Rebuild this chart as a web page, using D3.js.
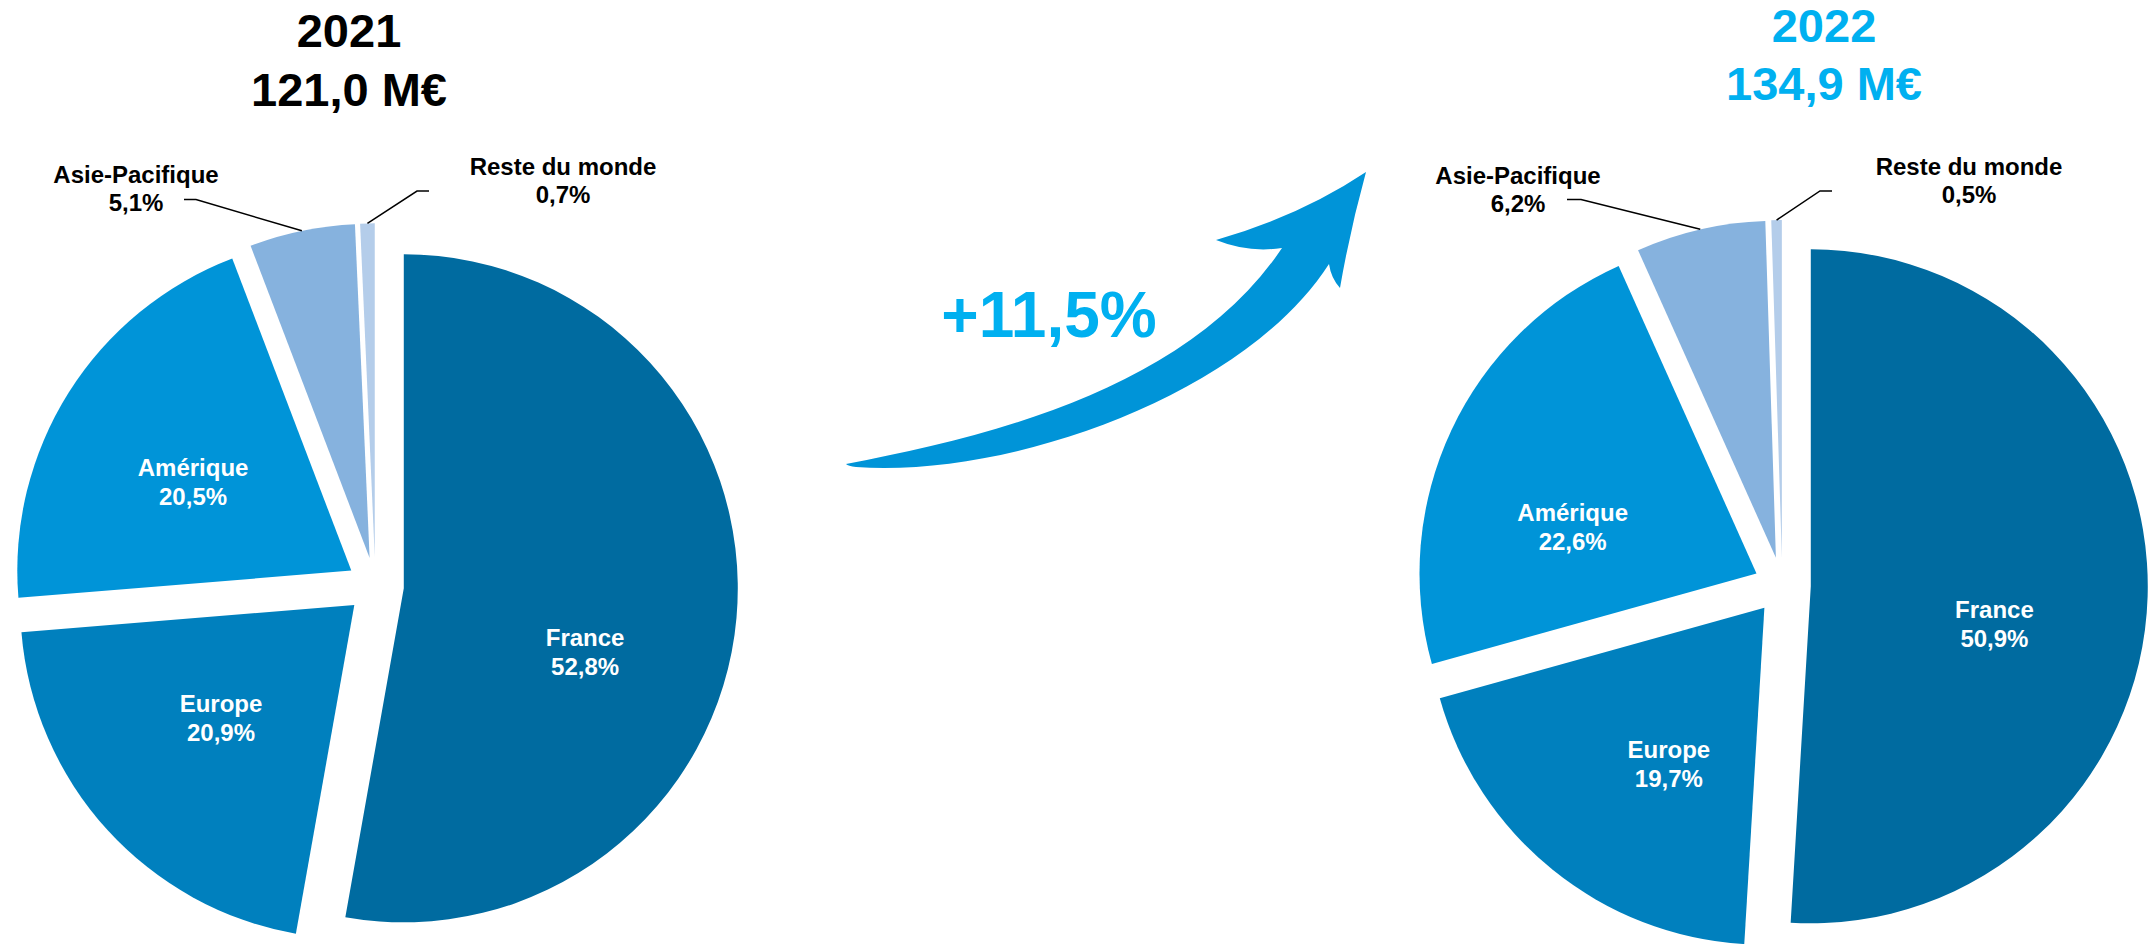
<!DOCTYPE html>
<html>
<head>
<meta charset="utf-8">
<script src="https://cdn.jsdelivr.net/npm/d3@7"></script>
<style>
  html, body { margin: 0; padding: 0; background: #ffffff; }
  svg { display: block; }
  text { font-family: "Liberation Sans", Arial, sans-serif; font-weight: bold; }
</style>
</head>
<body>
<svg id="chart" width="2149" height="944"></svg>
<script>
// ---------------- DATA ----------------
const categories = ["France", "Europe", "Amérique", "Asie-Pacifique", "Reste du monde"];
const shares2021 = [52.8, 20.9, 20.5, 5.1, 0.7];
const shares2022 = [50.9, 19.7, 22.6, 6.2, 0.5];
const years = ["2021", "2022"];
const totals = ["121,0 M€", "134,9 M€"];
const growthLabel = "+11,5%";

// ---------------- STYLE / LAYOUT ----------------
const sliceColors = ["#006BA0", "#0080BE", "#0094D8", "#86B2DE", "#B4CDEA"];
const titleColors = ["#000000", "#00B0F0"];
const W = 2149, H = 944;
const pies = [
  { cx: 375.4, cy: 585.8, r: 334, titleX: 349, titleY: [47, 106] },
  { cx: 1782.3, cy: 585.5, r: 337, titleX: 1824, titleY: [42, 100] }
];
const explode = 28.5;
// nudges for inside labels (relative to centroid at 0.56 r)
const insideNudge = [
  [[-5, 47], [5, -13], [0, 11]],
  [[-5, 32], [23, 9], [-13, 34]]
];
// outside labels: [labelX, labelCenterY, elbowX, elbowY, endX]
const outsideLayout = [
  { 3: [136, 188, 196, 199.5, 184], 4: [563, 180, 417, 191, 429] },
  { 3: [1518, 189, 1581, 199.5, 1567], 4: [1969, 180, 1820, 191, 1832] }
];

const svg = d3.select("#chart");
const fmt = v => d3.format(".1f")(v).replace(".", ",") + "%";

const pieGen = d3.pie().sort(null).value(d => d.value).startAngle(0).endAngle(2 * Math.PI);
const dirOf = a => [Math.sin(a), -Math.cos(a)];

[shares2021, shares2022].forEach((shares, pi) => {
  const P = pies[pi];
  const data = categories.map((c, i) => ({ name: c, value: shares[i], idx: i }));
  const arcs = pieGen(data);
  const arcGen = d3.arc().innerRadius(0).outerRadius(P.r);
  const g = svg.append("g").attr("transform", `translate(${P.cx},${P.cy})`);

  arcs.forEach(a => {
    const mid = (a.startAngle + a.endAngle) / 2;
    const [ux, uy] = dirOf(mid);
    const ox = explode * ux, oy = explode * uy;
    a.ox = ox; a.oy = oy; a.mid = mid;
    g.append("path")
      .attr("d", arcGen(a))
      .attr("transform", `translate(${ox},${oy})`)
      .attr("fill", sliceColors[a.data.idx]);
  });

  // inside labels
  const labelArc = d3.arc().innerRadius(P.r * 0.56).outerRadius(P.r * 0.56);
  arcs.slice(0, 3).forEach((a, k) => {
    const c = labelArc.centroid(a);
    const nx = insideNudge[pi][k][0], ny = insideNudge[pi][k][1];
    const x = c[0] + a.ox + nx, y = c[1] + a.oy + ny;
    const t = g.append("text").attr("text-anchor", "middle").attr("fill", "#ffffff")
      .style("font-size", "24px");
    t.append("tspan").attr("x", x).attr("y", y - 14.5 + 8.5).text(a.data.name);
    t.append("tspan").attr("x", x).attr("y", y + 14.5 + 8.5).text(fmt(a.data.value));
  });

  // outside labels with leader lines
  const outerArc = d3.arc().innerRadius(P.r).outerRadius(P.r);
  arcs.slice(3).forEach(a => {
    const L = outsideLayout[pi][a.data.idx];
    const c = outerArc.centroid(a);
    const sx = c[0] + a.ox, sy = c[1] + a.oy;
    const ex = L[2] - P.cx, ey = L[3] - P.cy, endX = L[4] - P.cx;
    g.append("path")
      .attr("d", d3.line()([[sx, sy], [ex, ey], [endX, ey]]))
      .attr("fill", "none").attr("stroke", "#000").attr("stroke-width", 1.5);
    const lx = L[0] - P.cx, ly = L[1] - P.cy;
    const t = g.append("text").attr("text-anchor", "middle").attr("fill", "#000")
      .style("font-size", "24px");
    t.append("tspan").attr("x", lx).attr("y", ly - 14 + 8.5).text(a.data.name);
    t.append("tspan").attr("x", lx).attr("y", ly + 14 + 8.5).text(fmt(a.data.value));
  });

  // title
  const tt = svg.append("text").attr("text-anchor", "middle").attr("fill", titleColors[pi])
    .style("font-size", "47px");
  tt.append("tspan").attr("x", P.titleX).attr("y", P.titleY[0]).text(years[pi]);
  tt.append("tspan").attr("x", P.titleX).attr("y", P.titleY[1]).text(totals[pi]);
});

// ---------------- GROWTH ARROW (decoration) ----------------
const ap = d3.path();
ap.moveTo(846, 464);
ap.bezierCurveTo(1000, 435, 1190, 385, 1282, 248);   // upper edge of shaft
ap.quadraticCurveTo(1248, 253, 1216, 240);           // upper barb underside
ap.quadraticCurveTo(1300, 216, 1366, 172);           // barb top edge to tip
ap.quadraticCurveTo(1350, 230, 1340, 288);           // tip down to lower barb
ap.quadraticCurveTo(1331, 278, 1329, 264);           // lower barb inner
ap.bezierCurveTo(1245, 395, 1010, 478, 856, 467);    // lower edge of shaft
ap.quadraticCurveTo(848, 466, 846, 464);
ap.closePath();
svg.append("path").attr("d", ap.toString()).attr("fill", "#0094D8");

svg.append("text").attr("x", 1049).attr("y", 337).attr("text-anchor", "middle")
  .attr("fill", "#00B0F0").style("font-size", "64px").text(growthLabel);
</script>
</body>
</html>
